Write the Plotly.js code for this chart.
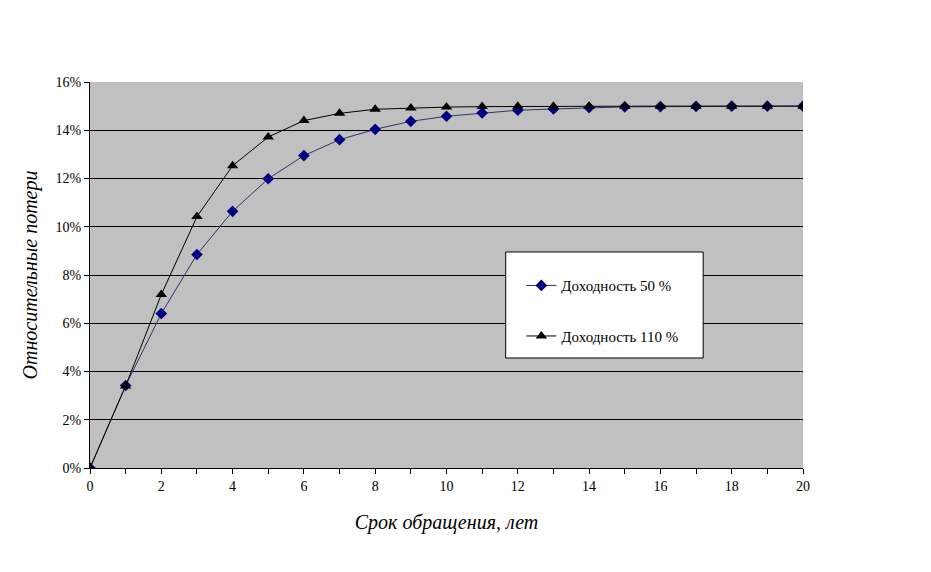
<!DOCTYPE html>
<html>
<head>
<meta charset="utf-8">
<script src="https://cdn.plot.ly/plotly-3.0.1.min.js"></script>
<style>html,body{margin:0;padding:0;background:#fff;}#chart{width:931px;height:572px;}</style>
</head>
<body>
<div id="chart"></div>
<script>
const years = [0,1,2,3,4,5,6,7,8,9,10,11,12,13,14,15,16,17,18,19,20];
const loss50 = [0,3.42,6.40,8.85,10.64,11.99,12.95,13.61,14.04,14.37,14.58,14.72,14.83,14.88,14.94,14.97,14.98,14.99,15.0,15.0,15.0];
const loss110 = [0,3.40,7.19,10.42,12.53,13.72,14.40,14.70,14.87,14.92,14.96,14.98,14.99,15.0,15.0,15.0,15.0,15.0,15.0,15.0,15.0];
const seriesNames = ['Доходность 50 %', 'Доходность 110 %'];
const yTicks = [0,2,4,6,8,10,12,14,16];
const yTickText = ['0%','2%','4%','6%','8%','10%','12%','14%','16%'];
const xTitle = 'Срок обращения, лет';
const yTitle = 'Относительные потери';

const font = 'Liberation Serif, DejaVu Serif, serif';
const traces = [
  {x: years, y: loss50, name: seriesNames[0], legendgroup: 'a', mode: 'lines+markers',
   line: {color: '#333366', width: 1},
   marker: {symbol: 'diamond', color: '#000080', size: 9}},
  {x: years, y: loss110, name: seriesNames[1], legendgroup: 'b', mode: 'lines+markers',
   line: {color: '#000000', width: 1},
   marker: {symbol: 'triangle-up', color: '#000000', size: 10}}
];
const layout = {
  width: 931, height: 572,
  margin: {l: 90, r: 128, t: 82, b: 104},
  paper_bgcolor: '#ffffff', plot_bgcolor: '#c0c0c0',
  font: {family: font, size: 13, color: '#000'},
  showlegend: true,
  legend: {x: 0.605, y: 0.515, xanchor: 'left', yanchor: 'top',
    bgcolor: 'rgba(0,0,0,0)', borderwidth: 0,
    font: {family: font, size: 15}, tracegroupgap: 28},
  shapes: [{type: 'rect', xref: 'paper', yref: 'paper', x0: 0.583, x1: 0.860, y0: 0.285, y1: 0.5596,
    fillcolor: '#ffffff', line: {color: '#000000', width: 1}, layer: 'above'}],
  xaxis: {range: [0, 20], dtick: 2, tick0: 0, ticks: 'outside', ticklen: 5, tickcolor: '#000',
    showgrid: false, zeroline: false, showline: true, linecolor: '#000', linewidth: 1,
    minor: {dtick: 1, ticks: 'outside', ticklen: 5, tickcolor: '#000', showgrid: false},
    tickfont: {family: font, size: 14},
    title: {text: xTitle, font: {family: font, size: 20, style: 'italic'}, standoff: 22}},
  yaxis: {range: [0, 16], tickvals: yTicks, ticktext: yTickText, ticks: 'outside', ticklen: 5, tickcolor: '#000',
    showgrid: true, gridcolor: '#000000', gridwidth: 1, zeroline: false,
    showline: true, linecolor: '#000', linewidth: 1,
    tickfont: {family: font, size: 14},
    title: {text: yTitle, font: {family: font, size: 20, style: 'italic'}, standoff: 12}}
};
Plotly.newPlot('chart', traces, layout, {displayModeBar: false});
</script>
</body>
</html>
